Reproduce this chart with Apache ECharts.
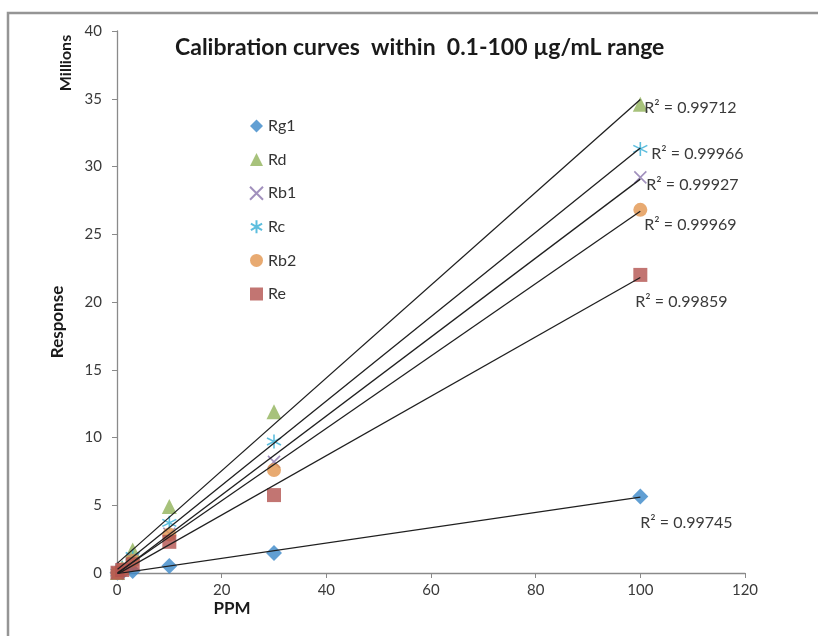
<!DOCTYPE html>
<html>
<head>
<meta charset="utf-8">
<script src="https://cdn.jsdelivr.net/npm/echarts@6/dist/echarts.min.js"></script>
<style>
  html, body { margin: 0; padding: 0; background: #fff; }
  #chart { width: 818px; height: 636px; }
</style>
</head>
<body>
<div id="chart"></div>
<script>
// concentrations (PPM)
const ppm = [0.1, 1, 3, 10, 30, 100];
// responses (millions)
const rg1 = [0.01, 0.05, 0.15, 0.52, 1.48, 5.65];
const rd = [0.03, 0.4, 1.7, 4.9, 11.9, 34.6];
const rb1 = [0.02, 0.3, 1.0, 2.9, 8.2, 29.2];
const rc = [0.03, 0.35, 1.25, 3.7, 9.7, 31.3];
const rb2 = [0.02, 0.28, 0.9, 2.85, 7.6, 26.8];
const re = [0.02, 0.22, 0.65, 2.3, 5.75, 22.0];
const r2 = {
  Rg1: "0.99745",
  Rd: "0.99712",
  Rb1: "0.99927",
  Rc: "0.99966",
  Rb2: "0.99969",
  Re: "0.99859"
};

const font = "Lato";
const xMark = "path://M0 0L10 10M10 0L0 10";
const starMark = "path://M5 0L5 10M0.7 2.5L9.3 7.5M0.7 7.5L9.3 2.5";

const seriesDefs = [
  { name: "Rg1", data: rg1, symbol: "diamond", size: 16, color: "#3a87c8", labelOffset: [-2, 26] },
  { name: "Rd", data: rd, symbol: "triangle", size: 15, color: "#91b35a", labelOffset: [2, 8] },
  { name: "Rb1", data: rb1, symbol: xMark, size: 12, color: "#8a74ad", stroke: true, labelOffset: [4, 6] },
  { name: "Rc", data: rc, symbol: starMark, size: 14, color: "#35aed6", stroke: true, labelOffset: [9, 6] },
  { name: "Rb2", data: rb2, symbol: "circle", size: 14, color: "#e2954e", labelOffset: [2, 14] },
  { name: "Re", data: re, symbol: "rect", size: 14, color: "#b3524f", labelOffset: [-7, 24] }
];

// least squares trendline over the data range
function fit(ys) {
  const n = ppm.length;
  let sx = 0, sy = 0, sxx = 0, sxy = 0;
  for (let i = 0; i < n; i++) {
    sx += ppm[i]; sy += ys[i];
    sxx += ppm[i] * ppm[i]; sxy += ppm[i] * ys[i];
  }
  const b = (n * sxy - sx * sy) / (n * sxx - sx * sx);
  const a = (sy - b * sx) / n;
  const x0 = Math.min(...ppm), x1 = Math.max(...ppm);
  return [[x0, a + b * x0], [x1, a + b * x1]];
}

const series = [];
seriesDefs.forEach(d => {
  series.push({
    name: d.name,
    type: "scatter",
    symbol: d.symbol,
    symbolSize: d.size,
    z: 2,
    itemStyle: d.stroke
      ? { color: "rgba(0,0,0,0)", borderColor: d.color, borderWidth: 1.6 }
      : { color: d.color },
    data: ppm.map((x, i) => [x, d.data[i]])
  });
});
seriesDefs.forEach(d => {
  series.push({
    name: d.name + " trend",
    type: "line",
    z: 5,
    showSymbol: false,
    symbol: "none",
    silent: true,
    lineStyle: { color: "#1f1f1f", width: 1.3 },
    data: fit(d.data),
    endLabel: {
      show: true,
      formatter: "R² = " + r2[d.name],
      offset: d.labelOffset,
      distance: 2,
      color: "#3a3a3a",
      fontFamily: font,
      fontSize: 16
    }
  });
});

const chart = echarts.init(document.getElementById("chart"));
chart.setOption({
  animation: false,
  backgroundColor: "#ffffff",
  title: {
    text: "Calibration curves  within  0.1-100 µg/mL range",
    left: 170,
    top: 31,
    textStyle: { fontFamily: font, fontWeight: "bold", fontSize: 23, color: "#1a1a1a" }
  },
  legend: {
    orient: "vertical",
    left: 244,
    top: 113,
    itemWidth: 13,
    itemHeight: 13,
    itemGap: 17.6,
    data: seriesDefs.map(d => d.name),
    textStyle: { fontFamily: font, fontSize: 16, color: "#333" }
  },
  grid: { left: 117, right: 73, top: 31, bottom: 63 },
  xAxis: {
    type: "value",
    min: 0,
    max: 120,
    interval: 20,
    splitLine: { show: false },
    axisLine: { lineStyle: { color: "#8a8a8a", width: 1.3 } },
    axisTick: { show: true, length: 5, lineStyle: { color: "#8a8a8a" } },
    axisLabel: { fontFamily: font, fontSize: 15, color: "#3a3a3a", margin: 10 }
  },
  yAxis: {
    type: "value",
    min: 0,
    max: 40,
    interval: 5,
    splitLine: { show: false },
    axisLine: { show: true, lineStyle: { color: "#8a8a8a", width: 1.3 } },
    axisTick: { show: true, length: 5, lineStyle: { color: "#8a8a8a" } },
    axisLabel: { fontFamily: font, fontSize: 15, color: "#3a3a3a", margin: 15 }
  },
  graphic: [
    {
      type: "rect",
      shape: { x: 8, y: 13, width: 900, height: 700 },
      style: { fill: "none", stroke: "#959595", lineWidth: 2.5 },
      silent: true
    },
    {
      type: "text",
      x: 66,
      y: 63,
      rotation: Math.PI / 2,
      style: {
        text: "Millions",
        align: "center",
        verticalAlign: "middle",
        font: "bold 16px " + font,
        fill: "#1a1a1a"
      }
    },
    {
      type: "text",
      x: 58,
      y: 322,
      rotation: Math.PI / 2,
      style: {
        text: "Response",
        align: "center",
        verticalAlign: "middle",
        font: "bold 17px " + font,
        fill: "#1a1a1a"
      }
    },
    {
      type: "text",
      x: 232,
      y: 609,
      style: {
        text: "PPM",
        align: "center",
        verticalAlign: "middle",
        font: "bold 17px " + font,
        fill: "#1a1a1a"
      }
    }
  ],
  series: series
});
</script>
</body>
</html>
